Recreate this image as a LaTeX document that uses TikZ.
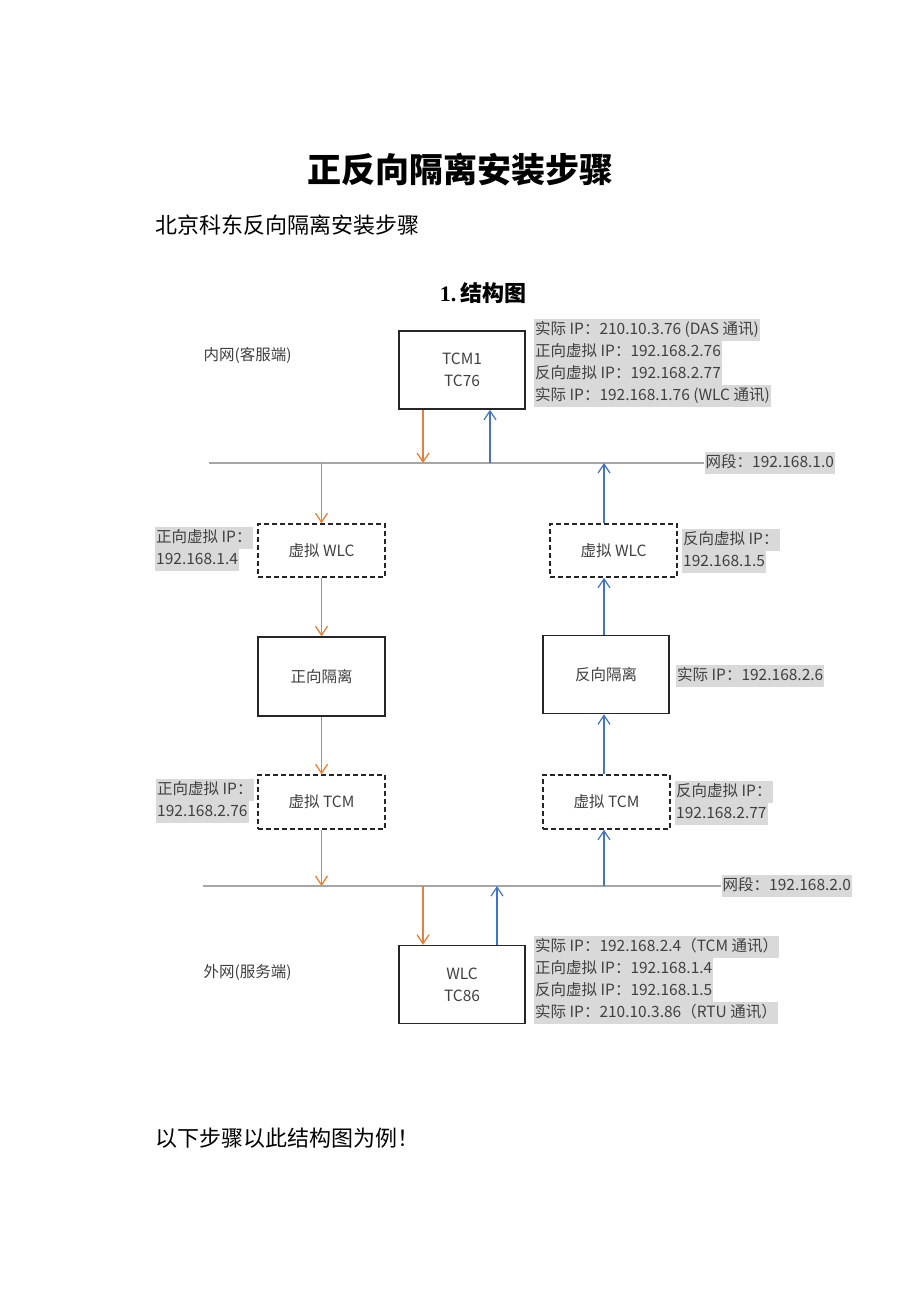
\documentclass[tikz,border=0pt]{standalone}
\usepackage{fontspec}
\setmainfont{Liberation Serif}
\newfontfamily\cjk{Noto Sans CJK SC}
\usetikzlibrary{arrows.meta}

\definecolor{fwdorange}{HTML}{ED7D31}
\definecolor{revblue}{HTML}{4472C4}
\definecolor{busgray}{HTML}{A6A6A6}
\definecolor{notegray}{HTML}{D9D9D9}
\definecolor{txtgray}{HTML}{404040}

\begin{document}
\begin{tikzpicture}[x=1pt,y=-1pt,>={Straight Barb[length=9pt,width=12pt]},
    dev/.style={draw=black!85,line width=1.5pt,minimum width=126pt,minimum height=78pt,
                align=center,text=txtgray,font=\cjk\fontsize{15.5}{22}\selectfont},
    virt/.style={dev,dash pattern=on 5pt off 3pt,minimum height=53pt},
    note/.style={fill=notegray,anchor=west,inner sep=1pt,text height=14pt,text depth=6pt,
                 text=txtgray,font=\cjk\fontsize{15.5}{22}\selectfont},
    side/.style={anchor=west,text=txtgray,font=\cjk\fontsize{15.5}{22}\selectfont},
    fwd/.style={->,fwdorange,line width=1.2pt},
    rev/.style={->,revblue,line width=1.2pt},
    bus/.style={busgray,line width=1.4pt}]
  \useasboundingbox[fill=white] (0,0) rectangle (920,1302);

  \node[font=\cjk\bfseries\fontsize{34}{40}\selectfont] (title) at (460,170) {正反向隔离安装步骤};
  \node[anchor=west,font=\cjk\fontsize{22}{26}\selectfont] (subtitle) at (152,225) {北京科东反向隔离安装步骤};
  \node[font=\bfseries\fontsize{22}{26}\selectfont] (section) at (483,293) {1.\,{\cjk 结构图}};
  \node[anchor=west,font=\cjk\fontsize{22}{26}\selectfont] (footer) at (152,1138) {以下步骤以此结构图为例！};

  \node[dev] (tcm) at (462,370) {TCM1\\TC76};
  \node[virt,minimum width=127pt] (vwlcF) at (321.5,550.5) {虚拟 WLC};
  \node[virt,minimum width=127pt] (vwlcR) at (613.5,550.5) {虚拟 WLC};
  \node[dev,minimum width=127pt,minimum height=79pt] (isoF) at (321.5,676.5) {正向隔离};
  \node[dev] (isoR) at (606,674.5) {反向隔离};
  \node[virt,minimum width=127pt,minimum height=54pt] (vtcmF) at (321.5,802) {虚拟 TCM};
  \node[virt,minimum width=127pt,minimum height=54pt] (vtcmR) at (606.5,802) {虚拟 TCM};
  \node[dev] (wlc) at (462,984.5) {WLC\\TC86};

  \node[side] (inner) at (200,355) {内网(客服端)};
  \node[side] (outer) at (200,972) {外网(服务端)};

  \foreach \t [count=\i] in {{实际 IP：210.10.3.76 (DAS 通讯)},{正向虚拟 IP：192.168.2.76},
                            {反向虚拟 IP：192.168.2.77},{实际 IP：192.168.1.76 (WLC 通讯)}}
    \node[note] (tcmip\i) at (534,308+22*\i) {\t};
  \foreach \t [count=\i] in {{实际 IP：192.168.2.4（TCM 通讯）},{正向虚拟 IP：192.168.1.4},
                            {反向虚拟 IP：192.168.1.5},{实际 IP：210.10.3.86（RTU 通讯）}}
    \node[note] (wlcip\i) at (534,925+22*\i) {\t};

  \node[note] (fwlc1) at (155,538) {正向虚拟 IP：};
  \node[note] (fwlc2) at (155,560) {192.168.1.4};
  \node[note] (rwlc1) at (682,540) {反向虚拟 IP：};
  \node[note] (rwlc2) at (682,562) {192.168.1.5};
  \node[note] (risoip) at (676,676) {实际 IP：192.168.2.6};
  \node[note] (ftcm1) at (156,790) {正向虚拟 IP：};
  \node[note] (ftcm2) at (156,812) {192.168.2.76};
  \node[note] (rtcm1) at (675,792) {反向虚拟 IP：};
  \node[note] (rtcm2) at (675,814) {192.168.2.77};

  \coordinate (bus1w) at (209,463);
  \coordinate (bus1e) at (704,463);
  \coordinate (bus2w) at (203,886);
  \coordinate (bus2e) at (721,886);
  \draw[bus] (bus1w) -- (bus1e) node[note,right=0pt] (net1) {网段：192.168.1.0};
  \draw[bus] (bus2w) -- (bus2e) node[note,right=0pt] (net2) {网段：192.168.2.0};

  \coordinate (t1) at (423,463);
  \coordinate (t2) at (490,463);
  \coordinate (t3) at (321.5,463);
  \coordinate (t4) at (604,463);
  \coordinate (t5) at (321.5,886);
  \coordinate (t6) at (604,886);
  \coordinate (t7) at (423,886);
  \coordinate (t8) at (497,886);

  \draw[fwd] (tcm.south -| t1) -- (t1);
  \draw[rev] (t2) -- (tcm.south -| t2);
  \draw[fwd] (t3) -- (vwlcF.north);
  \draw[rev] (vwlcR.north -| t4) -- (t4);
  \draw[fwd] (vwlcF.south) -- (isoF.north);
  \draw[rev] (isoR.north -| t4) -- (vwlcR.south -| t4);
  \draw[fwd] (isoF.south) -- (vtcmF.north);
  \draw[rev] (vtcmR.north -| t4) -- (isoR.south -| t4);
  \draw[fwd] (vtcmF.south) -- (t5);
  \draw[rev] (t6) -- (vtcmR.south -| t6);
  \draw[fwd] (t7) -- (wlc.north -| t7);
  \draw[rev] (wlc.north -| t8) -- (t8);
\end{tikzpicture}
\end{document}
